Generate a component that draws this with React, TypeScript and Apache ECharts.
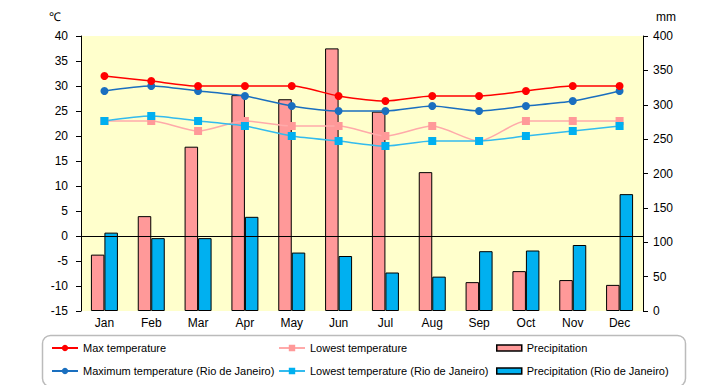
import React, { useEffect, useRef } from "react";
import * as echarts from "echarts";

const months = ["Jan", "Feb", "Mar", "Apr", "May", "Jun", "Jul", "Aug", "Sep", "Oct", "Nov", "Dec"];
const maxTemp = [32, 31, 30, 30, 30, 28, 27, 28, 28, 29, 30, 30];
const lowTemp = [23, 23, 21, 23, 22, 22, 20, 22, 19, 23, 23, 23];
const rioMaxTemp = [29, 30, 29, 28, 26, 25, 25, 26, 25, 26, 27, 29];
const rioLowTemp = [23, 24, 23, 22, 20, 19, 18, 19, 19, 20, 21, 22];
const precip = [82, 138, 239, 314, 308, 382, 290, 202, 42, 58, 45, 38];
const rioPrecip = [114, 106, 106, 137, 85, 80, 56, 50, 87, 88, 96, 170];

const FONT = "'Liberation Sans', Arial, sans-serif";

export default function App() {
  const ref = useRef<HTMLDivElement>(null);
  useEffect(() => {
    document.body.style.margin = "0";
    if (!ref.current) return;
    const chart = echarts.init(ref.current, null, { renderer: "svg" });
    const legendText = { fontSize: 11, fontFamily: FONT, color: "#000", lineHeight: 14, height: 14 };
    chart.setOption({
      animation: false,
      textStyle: { fontFamily: FONT },
      grid: {
        left: 81,
        right: 77,
        top: 36,
        bottom: 74,
        show: true,
        backgroundColor: "#FFFFCC",
        borderWidth: 0,
      },
      graphic: [
        { type: "text", left: 49, top: 11, style: { text: "℃", fontSize: 12, fontFamily: FONT, fill: "#000" } },
        { type: "text", left: 656, top: 11, style: { text: "mm", fontSize: 12, fontFamily: FONT, fill: "#000" } },
        {
          type: "rect",
          left: 40,
          top: 333,
          shape: { width: 643, height: 51, r: 8 },
          style: { fill: "none", stroke: "#bbbbbb", lineWidth: 1.5 },
        },
      ],
      legend: [
        {
          data: ["Max temperature", "Maximum temperature (Rio de Janeiro)"],
          orient: "vertical",
          left: 51,
          top: 341,
          padding: 0,
          itemWidth: 26,
          itemHeight: 8,
          itemGap: 9,
          textStyle: legendText,
        },
        {
          data: ["Lowest temperature", "Lowest temperature (Rio de Janeiro)"],
          orient: "vertical",
          left: 278,
          top: 341,
          padding: 0,
          itemWidth: 26,
          itemHeight: 8,
          itemGap: 9,
          textStyle: legendText,
        },
        {
          data: ["Precipitation", "Precipitation (Rio de Janeiro)"],
          orient: "vertical",
          left: 496,
          top: 341,
          padding: 0,
          itemWidth: 25,
          itemHeight: 6,
          itemGap: 9,
          icon: "rect",
          itemStyle: { borderWidth: 1.5 },
          textStyle: legendText,
        },
      ],
      xAxis: {
        type: "category",
        data: months,
        axisLine: { show: false },
        axisTick: { show: false },
        axisLabel: { color: "#000", fontSize: 12, margin: 6 },
      },
      yAxis: [
        {
          type: "value",
          min: -15,
          max: 40,
          interval: 5,
          splitLine: { show: false },
          axisLine: { show: true, lineStyle: { color: "#000" } },
          axisTick: { show: true, length: 5, lineStyle: { color: "#000" } },
          axisLabel: { color: "#000", fontSize: 12, margin: 13 },
        },
        {
          type: "value",
          min: 0,
          max: 400,
          interval: 50,
          position: "right",
          splitLine: { show: false },
          axisLine: { show: true, lineStyle: { color: "#000" } },
          axisTick: { show: true, length: 5, lineStyle: { color: "#000" } },
          axisLabel: { color: "#000", fontSize: 12, margin: 10 },
        },
      ],
      series: [
        {
          name: "Precipitation",
          type: "bar",
          yAxisIndex: 1,
          data: precip,
          barWidth: 13.5,
          barGap: "0%",
          itemStyle: { color: "#FF9999", borderColor: "#000", borderWidth: 1 },
        },
        {
          name: "Precipitation (Rio de Janeiro)",
          type: "bar",
          yAxisIndex: 1,
          data: rioPrecip,
          barWidth: 13.5,
          barGap: "0%",
          itemStyle: { color: "#00B0F0", borderColor: "#000", borderWidth: 1 },
        },
        {
          name: "Lowest temperature",
          type: "line",
          yAxisIndex: 0,
          data: lowTemp,
          smooth: 0.25,
          symbol: "rect",
          symbolSize: 8,
          itemStyle: { color: "#FF9999" },
          lineStyle: { color: "#FFAAAA", width: 1.5 },
        },
        {
          name: "Lowest temperature (Rio de Janeiro)",
          type: "line",
          yAxisIndex: 0,
          data: rioLowTemp,
          smooth: 0.25,
          symbol: "rect",
          symbolSize: 8,
          itemStyle: { color: "#00B0F0" },
          lineStyle: { color: "#33BBEE", width: 1.5 },
        },
        {
          name: "Maximum temperature (Rio de Janeiro)",
          type: "line",
          yAxisIndex: 0,
          data: rioMaxTemp,
          smooth: 0.25,
          symbol: "circle",
          symbolSize: 8,
          itemStyle: { color: "#1A6FBF" },
          lineStyle: { color: "#1A6FBF", width: 1.5 },
        },
        {
          name: "Max temperature",
          type: "line",
          yAxisIndex: 0,
          data: maxTemp,
          smooth: 0.25,
          symbol: "circle",
          symbolSize: 8,
          itemStyle: { color: "#FF0000" },
          lineStyle: { color: "#FF0000", width: 1.5 },
          markLine: {
            silent: true,
            symbol: ["none", "none"],
            label: { show: false },
            lineStyle: { color: "#000", type: "solid", width: 1 },
            data: [{ yAxis: 0 }],
          },
        },
      ],
    });
    return () => chart.dispose();
  }, []);
  return <div ref={ref} style={{ width: 720, height: 385 }} />;
}
